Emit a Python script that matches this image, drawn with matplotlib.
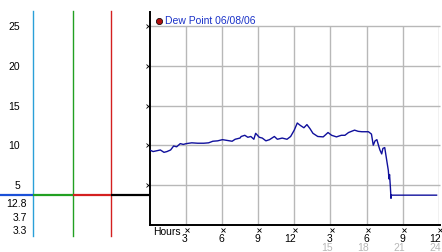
import numpy as np
import matplotlib
matplotlib.use("Agg")
import matplotlib.pyplot as plt

plt.rcParams['font.family'] = ['Liberation Sans', 'DejaVu Sans']

# Dew point readings, hours since start of 06/08/06
hours = [0.0, 0.3, 0.6, 0.9, 1.2, 1.45, 1.75, 2.0, 2.25, 2.55, 2.8, 3.05, 3.5, 4.0,
         4.5, 4.9, 5.25, 5.65, 6.05, 6.45, 6.85, 7.1, 7.5, 7.6, 7.9, 8.15, 8.4, 8.65,
         8.8, 9.1, 9.35, 9.65, 9.95, 10.35, 10.6, 11.0, 11.4, 11.7, 12.0, 12.25, 12.5,
         12.8, 13.05, 13.3, 13.55, 13.95, 14.4, 14.8, 15.1, 15.5, 15.9, 16.2, 16.5,
         17.0, 17.3, 17.6, 17.9, 18.15, 18.4, 18.55, 18.7, 18.85, 19.0, 19.1, 19.25,
         19.35, 19.5, 19.65, 19.8, 19.85, 19.9, 19.97, 20.02, 20.05, 23.8]
dew = [9.4, 9.2, 9.3, 9.4, 9.1, 9.2, 9.4, 9.9, 9.8, 10.2, 10.1, 10.2, 10.3, 10.25,
       10.25, 10.3, 10.5, 10.55, 10.7, 10.6, 10.5, 10.75, 10.9, 11.1, 11.25, 11.0, 11.1,
       10.75, 11.5, 11.0, 10.9, 10.55, 10.7, 11.1, 10.75, 10.9, 10.75, 11.1, 11.9, 12.8,
       12.5, 12.2, 12.6, 12.1, 11.5, 11.1, 11.05, 11.6, 11.25, 11.05, 11.25, 11.25, 11.6,
       11.9, 11.75, 11.7, 11.7, 11.7, 11.4, 10.0, 10.55, 10.7, 9.9, 9.4, 8.9,
       9.6, 9.7, 8.25, 6.8, 5.75, 6.3, 4.7, 3.3, 3.7, 3.7]

yticks = [5, 10, 15, 20, 25]
xticks = [3, 6, 9, 12, 15, 18, 21, 24]
xlabels = ['3', '6', '9', '12', '3', '6', '9', '12']
xlabels2 = {15: '15', 18: '18', 21: '21', 24: '24'}
title = 'Dew Point 06/08/06'

cur = dew[-1]
hi = max(dew)
lo = min(dew)

W, H = 442, 253
fig = plt.figure(figsize=(W / 100, H / 100), dpi=100)

x0, x1 = 149.5, 439.0
ytop, ybot = 13.0, 225.5
ymax = 26.8
axh = ybot - ytop
ax = fig.add_axes([x0 / W, (H - ybot) / H, (x1 - x0) / W, axh / H])
ax.set_xlim(0, 24)
ax.set_ylim(0, ymax)

grid_c = '#b8b8b8'
ax.hlines(yticks, 0, 24.1, color=grid_c, lw=1.0, zorder=1, clip_on=False)
ax.vlines(xticks, 0, 25, color=grid_c, lw=1.0, zorder=1)

ax.plot(hours, dew, color='#10109c', lw=1.0, zorder=3)

for s in ['top', 'right']:
    ax.spines[s].set_visible(False)
ax.spines['left'].set_linewidth(1.4)
ax.spines['bottom'].set_linewidth(1.4)
ax.spines['bottom'].set_bounds(0, 24.1)
ax.set_xticks([])
ax.set_yticks([])

# small x marks on the axes
ax.plot([-0.15] * len(yticks), yticks, 'x', ms=2.2, mew=0.6, color='k', clip_on=False, zorder=4)
xtr = ax.get_xaxis_transform()
ax.plot(np.array(xticks) + 0.1, [-5 / axh] * len(xticks), 'x', ms=2.2, mew=0.6,
        color='k', transform=xtr, clip_on=False)
for xv, lab in zip(xticks, xlabels):
    ax.text(xv + 0.18, -16.5 / axh, lab, transform=xtr, ha='right', va='baseline',
            fontsize=7.5, color='black')
    if xv in xlabels2:
        ax.text(xv + 0.18, -25.5 / axh, xlabels2[xv], transform=xtr, ha='right',
                va='baseline', fontsize=7.5, color='#b8b8b8')
ax.text(0.3, -10 / axh, 'Hours', transform=xtr, ha='left', va='baseline', fontsize=7.5)

# legend
ax.plot([0.8], [25.7], 'o', ms=4.5, mfc='#b01010', mec='black', mew=0.5, clip_on=False)
ax.text(1.3, 25.75, title, ha='left', va='center', fontsize=7.5, color='#1a32c8')

# left summary panel
lax = fig.add_axes([0, (H - ybot) / H, x0 / W, axh / H])
lax.set_xlim(0, x0)
lax.set_ylim(0, ymax)
lax.axis('off')
for yv in yticks:
    lax.text(20, yv, str(yv), ha='right', va='center', fontsize=7.5)

cols = ['#1a50d8', '#22a022', '#d42020', 'black']
edges = [0, 33, 72.5, 111, x0]
for i in range(4):
    lax.plot([edges[i], edges[i + 1]], [cur, cur], color=cols[i], lw=1.6,
             solid_capstyle='butt', zorder=3)
vcols = ['#2aa0d8', '#22a022', '#d42020']
for xv, c in zip(edges[1:4], vcols):
    lax.plot([xv, xv], [26.9, -1.5], color=c, lw=1.0, clip_on=False, zorder=2)

for val, py in zip([hi, cur, lo], [204.5, 218, 231]):
    lax.text(27, ymax * (ybot - py) / axh, f'{val:.1f}', ha='right', va='center',
             fontsize=7.5, clip_on=False)

fig.savefig('out.png', dpi=100)
